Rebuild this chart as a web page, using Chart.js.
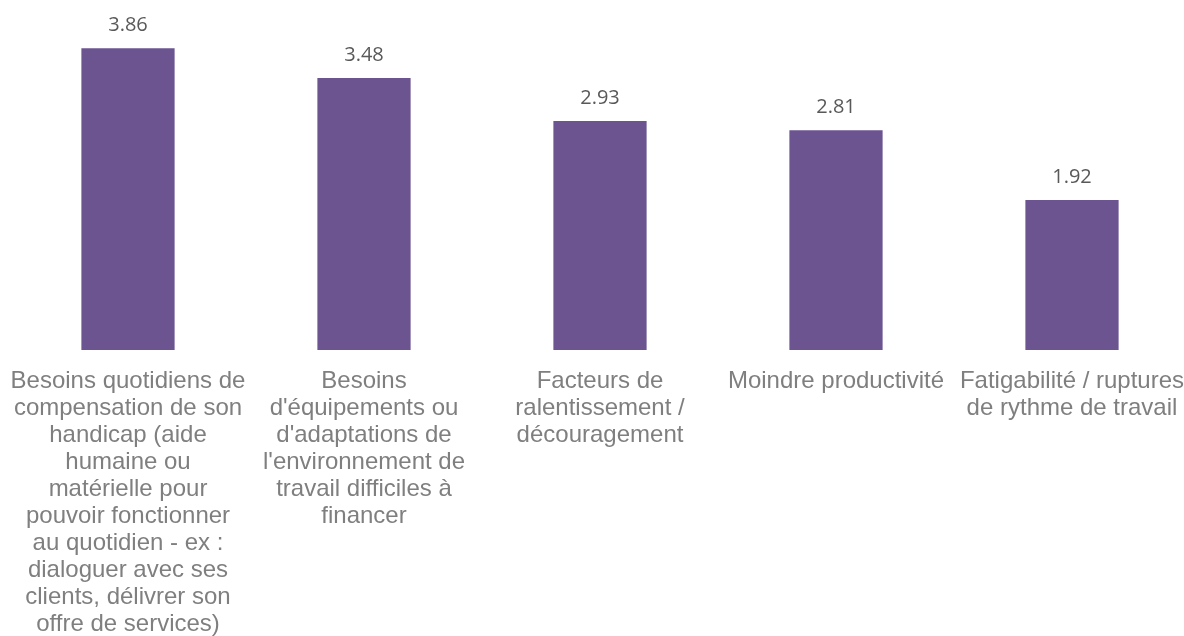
<!DOCTYPE html>
<html>
<head>
<meta charset="utf-8">
<script src="https://cdn.jsdelivr.net/npm/chart.js@4"></script>
<style>
  html, body { margin: 0; padding: 0; background: #fff; overflow: hidden; }
  .wrap { width: 1190px; height: 656px; }
</style>
</head>
<body>
<div class="wrap"><canvas id="chart"></canvas></div>
<script>
// data
var categories = [
  ['Besoins quotidiens de', 'compensation de son', 'handicap (aide', 'humaine ou',
   'matérielle pour', 'pouvoir fonctionner', 'au quotidien - ex :',
   'dialoguer avec ses', 'clients, délivrer son', 'offre de services)'],
  ['Besoins', "d'équipements ou", "d'adaptations de", "l'environnement de",
   'travail difficiles à', 'financer'],
  ['Facteurs de', 'ralentissement /', 'découragement'],
  ['Moindre productivité'],
  ['Fatigabilité / ruptures', 'de rythme de travail']
];
var values = [3.86, 3.48, 2.93, 2.81, 1.92];

// writes the value above each bar
var valueLabels = {
  id: 'valueLabels',
  afterDatasetsDraw(chart) {
    var ctx = chart.ctx;
    var meta = chart.getDatasetMeta(0);
    ctx.save();
    ctx.font = '20px "Open Sans", "Noto Sans", sans-serif';
    ctx.fillStyle = '#595959';
    ctx.textAlign = 'center';
    ctx.textBaseline = 'alphabetic';
    meta.data.forEach(function (bar, i) {
      ctx.fillText(values[i].toFixed(2), bar.x, bar.y - 17);
    });
    ctx.restore();
  }
};

var config = {
  type: 'bar',
  data: {
    labels: categories,
    datasets: [{
      data: values,
      backgroundColor: '#6B5490',
      borderWidth: 0,
      barPercentage: 0.395,
      categoryPercentage: 1
    }]
  },
  options: {
    responsive: true,
    maintainAspectRatio: false,
    animation: false,
    layout: { padding: { left: 10, right: 0, top: 6, bottom: 0 } },
    plugins: {
      legend: { display: false },
      tooltip: { enabled: false }
    },
    scales: {
      x: {
        grid: { display: false, drawTicks: false },
        border: { display: false },
        afterFit: function (scale) {
          // labels may run to the edges, don't shrink the plot for them
          scale.paddingLeft = 0;
          scale.paddingRight = 0;
        },
        ticks: {
          color: '#7F7F7F',
          font: { family: '"Liberation Sans", Arial, sans-serif', size: 24, lineHeight: 1.125 },
          padding: 18,
          autoSkip: false,
          maxRotation: 0,
          minRotation: 0
        }
      },
      y: {
        display: false,
        min: 0,
        max: 4.4
      }
    }
  },
  plugins: [valueLabels]
};

new Chart(document.getElementById('chart'), config);
</script>
</body>
</html>
